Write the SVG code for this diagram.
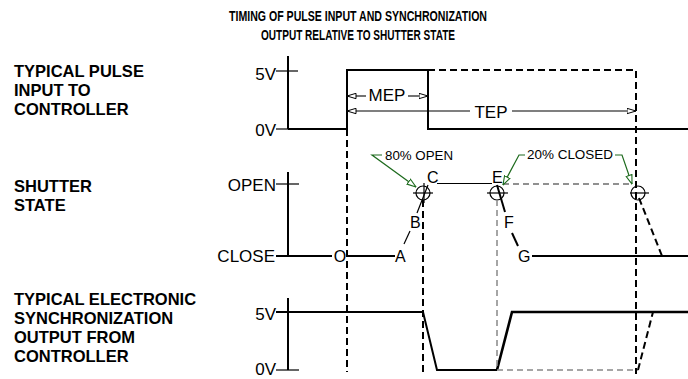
<svg xmlns="http://www.w3.org/2000/svg" width="688" height="379" viewBox="0 0 688 379">
<style>
.lbl{font-family:"Liberation Sans",Arial,sans-serif;font-weight:bold;font-size:16.5px;fill:#000}
.ttl{font-family:"Liberation Sans",Arial,sans-serif;font-weight:bold;font-size:15.5px;fill:#000}
.cad{font-family:"Liberation Sans",Arial,sans-serif;font-size:17px;fill:#000}
.let{font-family:"Liberation Sans",Arial,sans-serif;font-size:16px;fill:#000}
.note{font-family:"Liberation Sans",Arial,sans-serif;font-size:12px;fill:#000}
.s{fill:none;stroke:#000;stroke-width:2}
.t{fill:none;stroke:#000;stroke-width:1.2}
.d{fill:none;stroke:#000;stroke-width:2;stroke-dasharray:7 4}
.dt{fill:none;stroke:#222;stroke-width:1.1;stroke-dasharray:6 4}
.g{fill:none;stroke:#888;stroke-width:1.5;stroke-dasharray:6 4}
.gr{fill:none;stroke:#1e6b1e;stroke-width:1.2}
.dim{fill:none;stroke:#000;stroke-width:1.1}
</style>
<defs>
<marker id="ah" markerWidth="10" markerHeight="7" refX="9.5" refY="3.5" orient="auto" markerUnits="userSpaceOnUse">
<path d="M0.5,0.8 L9.5,3.5 L0.5,6.2 z" fill="#fff" stroke="#000" stroke-width="1"/>
</marker>
<marker id="ga" markerWidth="10" markerHeight="8" refX="9.5" refY="4" orient="auto" markerUnits="userSpaceOnUse">
<path d="M0.5,1 L9.5,4 L0.5,7 z" fill="#fff" stroke="#1e6b1e" stroke-width="1.1"/>
</marker>
</defs>
<rect width="688" height="379" fill="#fff"/>

<g id="title">
<text class="ttl" x="358" y="21" text-anchor="middle" textLength="258" lengthAdjust="spacingAndGlyphs">TIMING OF PULSE INPUT AND SYNCHRONIZATION</text>
<text class="ttl" x="358" y="40" text-anchor="middle" textLength="194" lengthAdjust="spacingAndGlyphs">OUTPUT RELATIVE TO SHUTTER STATE</text>
</g>

<g id="label-pulse">
<text class="lbl" x="14" y="77">TYPICAL PULSE</text>
<text class="lbl" x="14" y="96">INPUT TO</text>
<text class="lbl" x="14" y="115">CONTROLLER</text>
</g>
<g id="label-shutter">
<text class="lbl" x="14" y="192">SHUTTER</text>
<text class="lbl" x="14" y="211">STATE</text>
</g>
<g id="label-sync">
<text class="lbl" x="14" y="305">TYPICAL ELECTRONIC</text>
<text class="lbl" x="14" y="324">SYNCHRONIZATION</text>
<text class="lbl" x="14" y="343">OUTPUT FROM</text>
<text class="lbl" x="14" y="362">CONTROLLER</text>
</g>

<g id="pulse-chart">
<text class="cad" x="276" y="80" text-anchor="end">5V</text>
<text class="cad" x="276" y="136" text-anchor="end">0V</text>
<line class="s" x1="288" y1="56" x2="288" y2="129"/>
<line class="t" x1="276" y1="71" x2="298" y2="71"/>
<line class="t" x1="276" y1="129" x2="288" y2="129"/>
<polyline class="s" points="288,129 347,129 347,70 428,70 428,129 688,129"/>
<polyline class="d" points="428,70 636,70 636,374"/>
<text class="cad" x="387" y="101" text-anchor="middle">MEP</text>
<text class="cad" x="491" y="118" text-anchor="middle">TEP</text>
</g>

<g id="shutter-chart">
<text class="cad" x="276" y="191" text-anchor="end">OPEN</text>
<text class="cad" x="275" y="262" text-anchor="end">CLOSE</text>
<line class="s" x1="288" y1="172" x2="288" y2="256"/>
<line class="t" x1="276" y1="184" x2="299" y2="184"/>
<line class="s" x1="276" y1="256" x2="332" y2="256"/>
<text class="let" x="340" y="262" text-anchor="middle">O</text>
<line class="s" x1="347" y1="256" x2="395" y2="256"/>
<text class="let" x="395" y="262">A</text>
<line class="t" x1="404" y1="244" x2="410" y2="231"/>
<text class="let" x="410" y="228">B</text>
<line class="t" x1="417" y1="213" x2="428" y2="185"/>
<circle class="t" cx="423" cy="193" r="7"/>
<line class="t" x1="413" y1="193" x2="433" y2="193"/>
<line class="t" x1="424" y1="183" x2="424" y2="203"/>
<text class="let" x="427" y="183">C</text>
<line class="t" x1="437" y1="183.5" x2="492" y2="183.5"/>
<text class="let" x="492" y="183">E</text>
<line class="dt" x1="503" y1="184" x2="632" y2="184"/>
<circle class="t" cx="497" cy="193" r="7"/>
<line class="t" x1="487" y1="193" x2="508" y2="193"/>
<line class="s" x1="497" y1="185" x2="505" y2="212"/>
<text class="let" x="504" y="228">F</text>
<line class="s" x1="512" y1="233" x2="518" y2="246"/>
<text class="let" x="518" y="262">G</text>
<line class="s" x1="532" y1="256" x2="688" y2="256"/>
<circle class="t" cx="638" cy="193" r="7"/>
<line class="t" x1="630" y1="193" x2="649" y2="193"/>
<line class="d" x1="639" y1="198" x2="662" y2="256"/>
<text class="note" x="385" y="160" textLength="68" lengthAdjust="spacingAndGlyphs">80% OPEN</text>
<text class="note" x="527" y="159" textLength="86" lengthAdjust="spacingAndGlyphs">20% CLOSED</text>
</g>

<g id="sync-chart">
<text class="cad" x="276" y="320" text-anchor="end">5V</text>
<text class="cad" x="276" y="375" text-anchor="end">0V</text>
<line class="s" x1="288" y1="298" x2="288" y2="370"/>
<line class="t" x1="276" y1="370" x2="299" y2="370"/>
<polyline class="s" points="276,312 423,312 437,370 497,370"/>
<polyline class="s" style="stroke-width:2.6" points="497,370 512,312 688,312"/>
<line class="g" x1="497" y1="370" x2="638" y2="370"/>
<line class="d" x1="638" y1="370" x2="653" y2="312"/>
</g>

<g id="connectors">
<line class="d" x1="347" y1="129" x2="347" y2="372"/>
<line class="d" x1="423" y1="200" x2="423" y2="372"/>
<line class="g" x1="497" y1="200" x2="497" y2="370"/>
<line class="dim" x1="366" y1="96" x2="347" y2="96" marker-end="url(#ah)"/>
<line class="dim" x1="408" y1="96" x2="428" y2="96" marker-end="url(#ah)"/>
<line class="dim" x1="470" y1="111" x2="347" y2="111" marker-end="url(#ah)"/>
<line class="dim" x1="512" y1="111" x2="636" y2="111" marker-end="url(#ah)"/>
<polyline class="gr" points="382,155 372,155 416,187" marker-end="url(#ga)"/>
<polyline class="gr" points="525,155 519,155 503,185" marker-end="url(#ga)"/>
<polyline class="gr" points="615,155 622,155 632,184" marker-end="url(#ga)"/>
</g>
</svg>
